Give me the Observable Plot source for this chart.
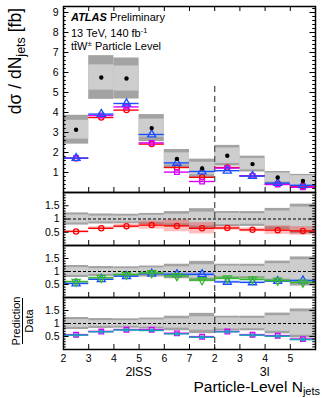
<!DOCTYPE html>
<html><head><meta charset="utf-8">
<script src="https://cdn.jsdelivr.net/npm/d3@7"></script>
<script src="https://cdn.jsdelivr.net/npm/@observablehq/plot@0.6"></script>
<style>
body{margin:0;background:#fff;}
#wrap{position:relative;width:322px;height:398px;overflow:hidden;}
</style></head><body><div id="wrap"></div>
<script>
// ---------- data ----------
const binLabels = ["2","3","4","5","6","7","2","3","4","5"];
const regionNames = ["2lSS","3l"];
const regionBins = [6, 4];
const dataValues = [3.14, 5.75, 5.7, 3.22, 1.68, 1.2, 1.84, 1.42, 0.75, 0.58];
const statRel  = [0.15, 0.11, 0.11, 0.14, 0.18, 0.26, 0.21, 0.20, 0.30, 0.45];
const totalRel = [0.23, 0.19, 0.18, 0.21, 0.28, 0.39, 0.28, 0.28, 0.40, 0.56];

const mainRed     = [1.71, 3.75, 4.12, 2.42, 1.25, 0.76, 1.25, 0.84, 0.42, 0.32];
const mainBlue    = [1.72, 3.92, 4.45, 2.90, 1.48, 1.05, 1.09, 0.82, 0.47, 0.36];
const mainMagenta = [1.71, 3.85, 4.28, 2.48, 1.02, 0.55, 1.22, 0.83, 0.40, 0.26];

const ratioRed     = [0.53, 0.65, 0.73, 0.77, 0.74, 0.65, 0.66, 0.59, 0.58, 0.55];
const ratioBlue    = [0.54, 0.70, 0.82, 0.91, 0.89, 0.89, 0.60, 0.58, 0.63, 0.65];
const ratioGreen   = [0.61, 0.76, 0.88, 0.94, 0.83, 0.67, 0.74, 0.70, 0.65, 0.58];
const ratioMagenta = [0.565, 0.69, 0.76, 0.76, 0.62, 0.49, 0.69, 0.565, 0.53, 0.40];
const ratioCyan    = [0.55, 0.68, 0.75, 0.73, 0.60, 0.47, 0.68, 0.55, 0.51, 0.38];

const relErrRed     = [0.06, 0.08, 0.10, 0.20, 0.30, 0.33, 0.12, 0.12, 0.28, 0.30];
const relErrBlue    = [0.08, 0.05, 0.05, 0.05, 0.07, 0.07, 0.07, 0.07, 0.07, 0.07];
const relErrGreen   = [0.05, 0.05, 0.05, 0.05, 0.08, 0.10, 0.10, 0.12, 0.08, 0.08];
const relErrMagenta = [0.05, 0.05, 0.05, 0.05, 0.05, 0.05, 0.05, 0.05, 0.05, 0.05];
const relErrCyan    = [0.03, 0.03, 0.03, 0.03, 0.03, 0.03, 0.03, 0.03, 0.03, 0.03];

// ---------- styling ----------
const FONT = "'Liberation Sans', Arial, Helvetica, sans-serif";
const C = {red:"#ff0000", blue:"#1a4dff", green:"#35b82a", magenta:"#d400ff", cyan:"#12a6b6",
           dark:"#a3a3a3", light:"#cdcdcd"};
const W = 322, ML = 63, MR = 7;
const nBins = binLabels.length;
const xDomain = [0, nBins];
const split = regionBins[0];

const triangleDown = {
  draw(ctx, size) {
    const y = -Math.sqrt(size / (Math.sqrt(3) * 3));
    ctx.moveTo(0, -2 * y);
    ctx.lineTo(-Math.sqrt(3) * y, y);
    ctx.lineTo(Math.sqrt(3) * y, y);
    ctx.closePath();
  }
};

const bins = dataValues.map((v, i) => ({x1: i, x2: i + 1, xc: i + 0.5, v, stat: statRel[i], tot: totalRel[i]}));
function rows(values, rel) {
  return values.map((p, i) => ({x1: i, x2: i + 1, xc: i + 0.5, p, lo: p * (1 - rel[i]), hi: p * (1 + rel[i])}));
}

function modelMarks(r, color, symbol, size, sw = 1.3, band = true) {
  const m = [];
  if (band) m.push(Plot.rectY(r, {x1: "x1", x2: "x2", y1: "lo", y2: "hi", fill: color, fillOpacity: 0.25}));
  m.push(
    Plot.ruleY(r, {y: "p", x1: "x1", x2: "x2", stroke: color, strokeWidth: 1.4}),
    Plot.dot(r, {x: "xc", y: "p", symbol, r: size, stroke: color, strokeWidth: sw, fill: "none"})
  );
  return m;
}

function frameTicks(yDomain, majors, minors, yLenMajor, withTop) {
  const [x0, x1] = xDomain;
  const edges = d3.range(1, nBins);
  const m = [
    Plot.ruleY(majors, {x1: x0, x2: x0 + 0.22, stroke: "black"}),
    Plot.ruleY(majors, {x1: x1 - 0.22, x2: x1, stroke: "black"}),
    Plot.ruleY(minors, {x1: x0, x2: x0 + 0.11, stroke: "black"}),
    Plot.ruleY(minors, {x1: x1 - 0.11, x2: x1, stroke: "black"}),
    Plot.ruleX(edges, {y1: yDomain[0], y2: yDomain[0] + yLenMajor, stroke: "black"})
  ];
  if (withTop) m.push(Plot.ruleX(edges, {y1: yDomain[1] - yLenMajor, y2: yDomain[1], stroke: "black"}));
  m.push(Plot.frame({stroke: "black", strokeWidth: 1.5}));
  return m;
}

const wrap = document.getElementById("wrap");
function place(svg, top) {
  svg.style.position = "absolute";
  svg.style.left = "0px";
  svg.style.top = top + "px";
  svg.style.overflow = "visible";
  svg.style.background = "transparent";
  wrap.appendChild(svg);
  return svg;
}

// ---------- main panel ----------
const mainTop = 6, mainH = 186;
const yMain = [0, 9.3];
const mainMajors = d3.range(1, 10);
const mainMinors = d3.range(1, 47).map(k => k / 5).filter(v => v % 1 !== 0 && v < yMain[1]);
const mainChart = Plot.plot({
  width: W, height: mainTop + mainH, marginLeft: ML, marginRight: MR, marginTop: mainTop, marginBottom: 0,
  style: {fontFamily: FONT, fontSize: "10.5px", background: "transparent", overflow: "visible", color: "black"},
  x: {domain: xDomain, axis: null},
  y: {domain: yMain},
  marks: [
    Plot.rectY(bins, {x1: "x1", x2: "x2", y1: d => d.v * (1 - d.tot), y2: d => d.v * (1 + d.tot), fill: C.dark}),
    Plot.rectY(bins, {x1: "x1", x2: "x2", y1: d => d.v * (1 - d.stat), y2: d => d.v * (1 + d.stat), fill: C.light}),
    Plot.ruleX([split], {y1: yMain[0], y2: 5.45, stroke: "#555", strokeWidth: 1.3, strokeDasharray: "6,4"}),
    ...modelMarks(rows(mainRed, relErrRed), C.red, "circle", 2.6, 1.3, false),
    ...modelMarks(rows(mainMagenta, relErrMagenta), C.magenta, "square", 2.6, 1.3, false),
    ...modelMarks(rows(mainBlue, relErrBlue), C.blue, "triangle", 3, 1.3, false),
    Plot.dot(bins, {x: "xc", y: "v", r: 2.2, fill: "black"}),
    Plot.axisY({ticks: mainMajors, tickSize: 0, tickPadding: 5, tickFormat: d => String(d)}),
    ...frameTicks(yMain, [0, ...mainMajors], mainMinors, 0.25, true)
  ]
});
place(mainChart, 0);

// ---------- ratio panels ----------
const yRatio = [0, 2];
const ratioMajors = [0.5, 1, 1.5];
const ratioMinors = d3.range(1, 20).map(k => k / 10).filter(v => Math.abs(v * 2 - Math.round(v * 2)) > 1e-9);
function ratioPanel(models, top, h, bottomAxis) {
  const marks = [
    Plot.rectY(bins, {x1: "x1", x2: "x2", y1: d => 1 - d.tot, y2: d => 1 + d.tot, fill: C.dark}),
    Plot.rectY(bins, {x1: "x1", x2: "x2", y1: d => 1 - d.stat, y2: d => 1 + d.stat, fill: C.light}),
    Plot.ruleY([1], {stroke: "black", strokeWidth: 1, strokeDasharray: "3,2"}),
    Plot.ruleX([split], {stroke: "#555", strokeWidth: 1.3, strokeDasharray: "6,4"})
  ];
  for (const m of models) marks.push(...modelMarks(rows(m.values, m.rel), m.color, m.symbol, m.r, m.sw));
  marks.push(Plot.axisY({ticks: ratioMajors, tickSize: 0, tickPadding: 4, tickFormat: d => String(d)}));
  if (bottomAxis) marks.push(Plot.axisX({ticks: d3.range(0, nBins), tickFormat: i => binLabels[i], tickSize: 0, tickPadding: 5}));
  marks.push(...frameTicks(yRatio, ratioMajors, ratioMinors, 0.19, false));
  const mb = bottomAxis ? 398 - top - h : 0;
  const chart = Plot.plot({
    width: W, height: h + mb, marginLeft: ML, marginRight: MR, marginTop: 0, marginBottom: mb,
    style: {fontFamily: FONT, fontSize: "10.5px", background: "transparent", overflow: "visible", color: "black"},
    x: {domain: xDomain, axis: bottomAxis ? undefined : null},
    y: {domain: yRatio},
    marks
  });
  return place(chart, top);
}
ratioPanel([{values: ratioRed, rel: relErrRed, color: C.red, symbol: "circle", r: 2.6}], 192, 53, false);
ratioPanel([
  {values: ratioBlue, rel: relErrBlue, color: C.blue, symbol: "triangle", r: 3},
  {values: ratioGreen, rel: relErrGreen, color: C.green, symbol: triangleDown, r: 3}
], 245, 52, false);
const bottomChart = ratioPanel([
  {values: ratioMagenta, rel: relErrMagenta, color: C.magenta, symbol: "square", r: 2.6},
  {values: ratioCyan, rel: relErrCyan, color: C.cyan, symbol: "circle", r: 1.3, sw: 1.4}
], 297, 52, true);

// ---------- text annotations ----------
const ov = d3.select(wrap).append("svg")
  .attr("width", W).attr("height", 398)
  .style("position", "absolute").style("left", "0px").style("top", "0px")
  .style("overflow", "visible").style("pointer-events", "none")
  .attr("font-family", FONT).attr("fill", "black");

const t1 = ov.append("text").attr("x", 71).attr("y", 20.5).attr("font-size", 11);
t1.append("tspan").attr("font-weight", "bold").attr("font-style", "italic").text("ATLAS");
t1.append("tspan").text(" Preliminary");
const t2 = ov.append("text").attr("x", 71).attr("y", 37).attr("font-size", 11);
t2.append("tspan").text("13 TeV, 140 fb");
t2.append("tspan").attr("font-size", 7.5).attr("dy", -4.5).text("-1");
const t3 = ov.append("text").attr("x", 71).attr("y", 50).attr("font-size", 11);
t3.append("tspan").text("tt\u0304W");
t3.append("tspan").attr("font-size", 8).attr("dy", -4).text("\u00b1");
t3.append("tspan").attr("dy", 4).text(" Particle Level");

const yt = ov.append("text").attr("transform", "translate(21,8) rotate(-90)").attr("text-anchor", "end").attr("font-size", 17.5);
yt.append("tspan").text("d\u03c3 / dN");
yt.append("tspan").attr("font-size", 12.5).attr("dy", 4).text("jets");
yt.append("tspan").attr("dy", -4).text(" [fb]");

ov.append("text").attr("transform", "translate(20,321) rotate(-90)").attr("text-anchor", "middle").attr("font-size", 11).text("Prediction");
ov.append("text").attr("transform", "translate(33,321) rotate(-90)").attr("text-anchor", "middle").attr("font-size", 11).text("Data");
ov.append("line").attr("x1", 22.5).attr("x2", 22.5).attr("y1", 298).attr("y2", 344).attr("stroke", "black").attr("stroke-width", 1);

const xs = bottomChart.scale("x");
let start = 0;
regionNames.forEach((name, k) => {
  const c = start + regionBins[k] / 2;
  ov.append("text").attr("x", xs.apply(c)).attr("y", 375.5).attr("text-anchor", "middle").attr("font-size", 12.5).text(name);
  start += regionBins[k];
});

const xt = ov.append("text").attr("x", 320).attr("y", 391.5).attr("text-anchor", "end").attr("font-size", 15.5);
xt.append("tspan").text("Particle-Level N");
xt.append("tspan").attr("font-size", 11).attr("dy", 3.5).text("jets");
</script>
</body></html>
